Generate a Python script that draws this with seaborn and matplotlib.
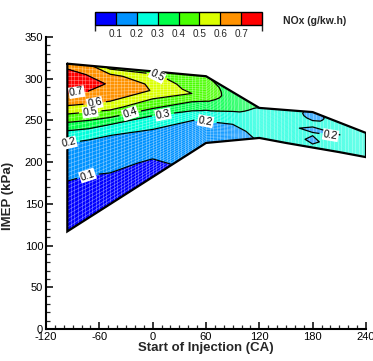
import numpy as np
import matplotlib
matplotlib.use("Agg")
import matplotlib.pyplot as plt
import seaborn as sns
from matplotlib.colors import ListedColormap, BoundaryNorm
from matplotlib.cm import ScalarMappable
from matplotlib.ticker import MultipleLocator
from matplotlib.collections import LineCollection

# Start of injection of each measured column (CA)
soi = np.array([-96, -72, -48, 0, 44, 60, 90, 120, 150, 180, 210, 240])
# Lowest and highest IMEP reached at each SOI (kPa)
imep_low = np.array([117, 133.3, 149.6, 182.2, 212.1, 223, 226, 229, 223, 217.5, 212, 206])
imep_high = np.array([318, 315.7, 313.4, 308.8, 304.5, 303, 284, 265, 262.5, 260, 247.5, 235])
# Relative load position of each grid row between low and high IMEP
load_frac = np.array([0, 0.2, 0.4, 0.5, 0.58, 0.64, 0.7, 0.76, 0.82, 0.88, 0.94, 1.0])

# NOx (g/kW.h) along each SOI column, from low to high load
nox_m96 = [0.05, 0.08, 0.12, 0.17, 0.26, 0.38, 0.50, 0.62, 0.695, 0.76, 0.735, 0.66]
nox_m72 = [0.06, 0.08, 0.13, 0.185, 0.29, 0.40, 0.51, 0.62, 0.69, 0.735, 0.695, 0.63]
nox_m48 = [0.06, 0.09, 0.16, 0.198, 0.295, 0.41, 0.52, 0.61, 0.67, 0.69, 0.63, 0.47]
nox_0 = [0.07, 0.105, 0.17, 0.23, 0.30, 0.39, 0.46, 0.52, 0.595, 0.58, 0.53, 0.48]
nox_44 = [0.13, 0.16, 0.195, 0.27, 0.34, 0.39, 0.44, 0.50, 0.47, 0.45, 0.44, 0.43]
nox_60 = [0.15, 0.175, 0.215, 0.31, 0.37, 0.41, 0.43, 0.445, 0.45, 0.44, 0.43, 0.41]
nox_90 = [0.16, 0.18, 0.21, 0.26, 0.29, 0.32, 0.34, 0.355, 0.365, 0.37, 0.37, 0.36]
nox_120 = [0.21, 0.22, 0.23, 0.235, 0.24, 0.245, 0.25, 0.26, 0.27, 0.28, 0.29, 0.30]
nox_150 = [0.22, 0.225, 0.22, 0.215, 0.205, 0.215, 0.225, 0.23, 0.235, 0.23, 0.225, 0.22]
nox_180 = [0.21, 0.19, 0.205, 0.185, 0.20, 0.22, 0.21, 0.20, 0.19, 0.185, 0.185, 0.19]
nox_210 = [0.23, 0.23, 0.215, 0.205, 0.198, 0.21, 0.215, 0.22, 0.225, 0.225, 0.22, 0.215]
nox_240 = [0.24, 0.24, 0.235, 0.235, 0.23, 0.23, 0.235, 0.24, 0.24, 0.24, 0.235, 0.23]

levels = [0.1, 0.2, 0.3, 0.4, 0.5, 0.6, 0.7]
band_colors = ["#0000ff", "#0092ff", "#00ffdb", "#00ff49",
               "#49ff00", "#dbff00", "#ff9200", "#ff0000"]

sns.set_theme(style="ticks")
plt.rcParams["font.family"] = ["Liberation Sans", "DejaVu Sans"]
plt.rcParams["axes.unicode_minus"] = False

nox = np.column_stack([nox_m96, nox_m72, nox_m48, nox_0, nox_44, nox_60,
                       nox_90, nox_120, nox_150, nox_180, nox_210, nox_240])
X = np.tile(soi, (len(load_frac), 1)).astype(float)
Y = imep_low[None, :] + load_frac[:, None] * (imep_high - imep_low)[None, :]

fig = plt.figure(figsize=(3.73, 3.61), dpi=100)
ax = fig.add_axes([46 / 373, 32 / 361, 320 / 373, 292 / 361])

cmap = ListedColormap(band_colors)
fill_levels = [0.0] + levels + [1.0]
ax.contourf(X, Y, nox, levels=fill_levels, colors=band_colors)

# fine computational mesh drawn over the flood
mesh = []
for s in np.arange(-96, 241, 4):
    mesh.append([(s, np.interp(s, soi, imep_low)), (s, np.interp(s, soi, imep_high))])
for f in np.linspace(0, 1, 41):
    mesh.append(list(zip(soi, imep_low + f * (imep_high - imep_low))))
ax.add_collection(LineCollection(mesh, colors="white", linewidths=0.45, alpha=0.45))

cs = ax.contour(X, Y, nox, levels=levels, colors="black", linewidths=0.9)

# domain outline
outline_x = np.concatenate([soi, soi[::-1], soi[:1]])
outline_y = np.concatenate([imep_high, imep_low[::-1], imep_high[:1]])
ax.plot(outline_x, outline_y, color="black", lw=1.6, solid_joinstyle="miter")

label_pos = [(6, 305), (-85, 282), (-65, 270), (-70, 259), (-25, 258),
             (12, 256), (60, 251), (-94, 222), (-74, 185), (200, 232)]
labels = ax.clabel(cs, levels=levels, fmt="%.1f", fontsize=7.5, inline=True,
                   manual=label_pos)
for t in labels:
    t.set_bbox(dict(facecolor="white", edgecolor="none", pad=0.5))

ax.set_xlim(-120, 240)
ax.set_ylim(0, 350)
ax.xaxis.set_major_locator(MultipleLocator(60))
ax.xaxis.set_minor_locator(MultipleLocator(10))
ax.yaxis.set_major_locator(MultipleLocator(50))
ax.yaxis.set_minor_locator(MultipleLocator(10))
ax.tick_params(which="major", direction="in", length=5, width=1.1,
               labelsize=8, pad=2, colors="black")
ax.tick_params(which="minor", direction="in", length=3, width=0.9)
for side in ["top", "right"]:
    ax.spines[side].set_visible(False)
for side in ["left", "bottom"]:
    ax.spines[side].set_linewidth(1.5)
    ax.spines[side].set_color("black")
ax.set_facecolor("white")
ax.set_xlabel("Start of Injection (CA)", fontsize=9.5, fontweight="bold", labelpad=0)
ax.set_ylabel("IMEP (kPa)", fontsize=9.5, fontweight="bold")
ax.yaxis.set_label_coords(-0.1, 0.455)

# legend bar for the flood levels
cax = fig.add_axes([95 / 373, 1 - 25 / 361, 167 / 373, 13 / 361])
bar_norm = BoundaryNorm([0.05] + levels + [0.75], cmap.N)
cb = fig.colorbar(ScalarMappable(norm=bar_norm, cmap=cmap), cax=cax,
                  orientation="horizontal", ticks=levels, drawedges=True)
cb.outline.set_linewidth(1.0)
cb.outline.set_edgecolor("black")
cb.dividers.set_color("black")
cb.dividers.set_linewidth(0.9)
cax.tick_params(length=0, labelsize=7.2, pad=3)
cax.set_xticklabels([f"{v:.1f}" for v in levels])
fig.text(315 / 373, 1 - 21 / 361, "NOx (g/kw.h)", fontsize=7.5, fontweight="bold",
         ha="center", va="center")

fig.savefig("out.png", dpi=100, facecolor="white")
